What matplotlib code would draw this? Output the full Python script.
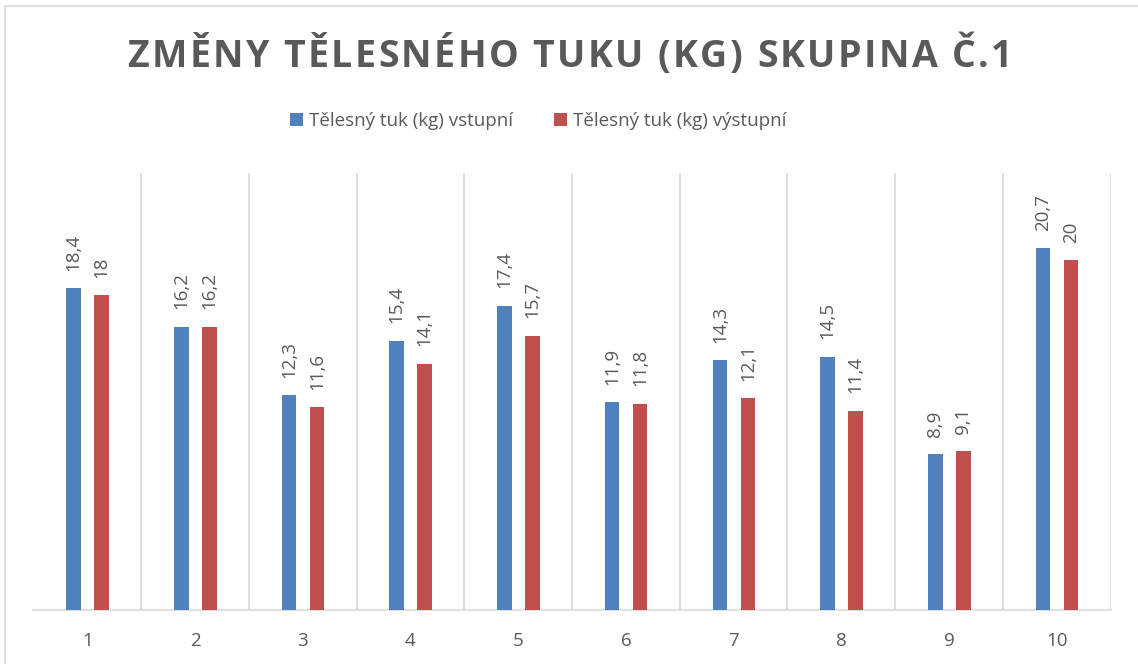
import numpy as np
import matplotlib.pyplot as plt
from matplotlib.lines import Line2D

# data
categories = ['1', '2', '3', '4', '5', '6', '7', '8', '9', '10']
vstupni = [18.4, 16.2, 12.3, 15.4, 17.4, 11.9, 14.3, 14.5, 8.9, 20.7]
vystupni = [18, 16.2, 11.6, 14.1, 15.7, 11.8, 12.1, 11.4, 9.1, 20]
series_names = ['Tělesný tuk (kg) vstupní', 'Tělesný tuk (kg) výstupní']
title = 'ZMĚNY TĚLESNÉHO TUKU (KG) SKUPINA Č.1'

BLUE = '#4F81BD'
RED = '#C0504D'
GRID = '#D9D9D9'
TEXT = '#595959'
W, H = 1138, 664

plt.rcParams['font.family'] = ['Open Sans', 'DejaVu Sans']


def fmt(v):
    s = ('%g' % v)
    return s.replace('.', ',')


def draw_spaced_title(fig, text, cx, base_y, total_w, **kw):
    # place characters one by one to get Excel-like letter spacing
    renderer = fig.canvas.get_renderer()

    def width(s):
        t = fig.text(0, 0, s, **kw)
        w = t.get_window_extent(renderer).width
        t.remove()
        return w

    ref = width('II')
    adv = [width('I' + ch + 'I') - ref for ch in text]
    spacing = (total_w - sum(adv)) / (len(text) - 1)
    x = cx - total_w / 2
    for ch, a in zip(text, adv):
        fig.text(x / W, base_y / H, ch, ha='left', va='baseline', **kw)
        x += a + spacing


fig = plt.figure(figsize=(W / 100, H / 100), dpi=100)

# outer chart border (only left and top edges are inside the crop)
fig.lines.append(Line2D([5 / W, 5 / W, 1.0], [0, 1 - 6 / H, 1 - 6 / H],
                        transform=fig.transFigure, color=GRID, lw=1.2))

ax = fig.add_axes([33.5 / W, 54 / H, 1077 / W, 437 / H])
x = np.arange(len(categories))
bw = 0.136
b1 = ax.bar(x - 0.127, vstupni, bw, color=BLUE, label=series_names[0], zorder=3)
b2 = ax.bar(x + 0.133, vystupni, bw, color=RED, label=series_names[1], zorder=3)

for bars, vals in [(b1, vstupni), (b2, vystupni)]:
    for rect, v in zip(bars, vals):
        ax.annotate(fmt(v), (rect.get_x() + rect.get_width() / 2, v),
                    xytext=(0, 12.5), textcoords='offset points',
                    rotation=90, ha='center', va='bottom',
                    fontsize=13.5, color=TEXT)

ax.set_xlim(-0.5, len(categories) - 0.5)
ax.set_ylim(0, 25)
ax.set_xticks(x)
ax.set_xticklabels(categories, fontsize=13.5, color=TEXT)
ax.set_xticks(np.arange(-0.5, len(categories), 1), minor=True)
ax.tick_params(axis='x', which='both', length=0, pad=16)
ax.set_yticks([])
ax.grid(which='minor', axis='x', color=GRID, lw=1.2, zorder=0)
for side in ['top', 'left', 'right']:
    ax.spines[side].set_visible(False)
ax.spines['bottom'].set_color(GRID)
ax.spines['bottom'].set_linewidth(1.2)

fig.legend(handles=[b1, b2], labels=series_names, loc='center',
           bbox_to_anchor=(538 / W, 1 - 121 / H), ncol=2, frameon=False,
           fontsize=13.5, labelcolor=TEXT, handlelength=0.7, handleheight=0.7,
           handletextpad=0.3, columnspacing=2.2)

draw_spaced_title(fig, title, 570, H - 67, 885,
                  fontsize=27, fontweight='bold', color=TEXT)

fig.savefig('out.png', dpi=100)
